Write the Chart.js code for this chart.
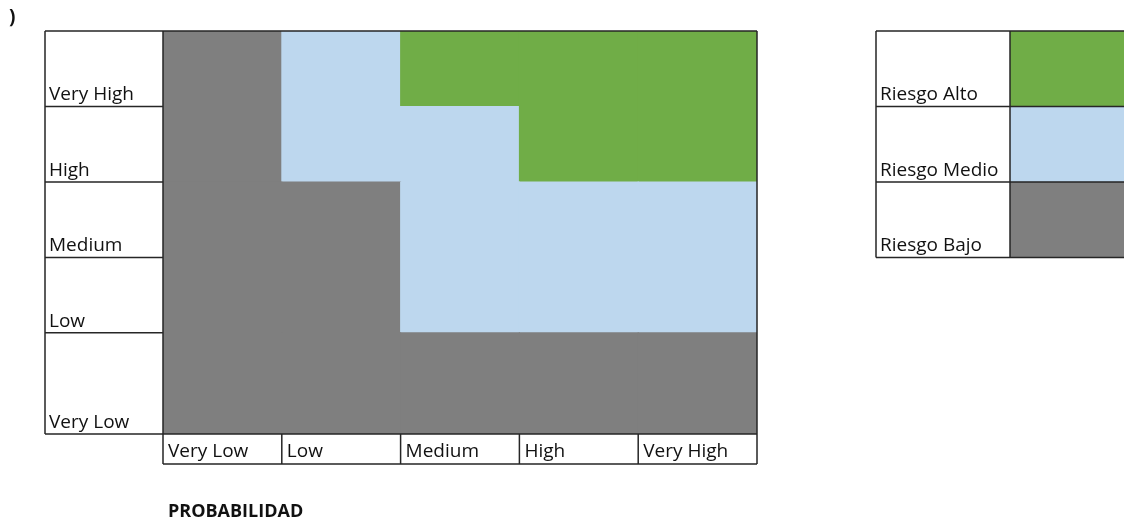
<!DOCTYPE html>
<html>
<head>
<meta charset="utf-8">
<script src="https://cdn.jsdelivr.net/npm/chart.js@4/dist/chart.umd.min.js"></script>
<style>
    html, body { margin: 0; padding: 0; background: #ffffff; }
    #wrap { width: 1124px; height: 523px; position: relative; }
</style>
</head>
<body>
<div id="wrap"><canvas id="riskChart"></canvas></div>
<script>
// --- Data --- //
const probabilidad = ['Very Low', 'Low', 'Medium', 'High', 'Very High']; // columns, left to right
const impacto = ['Very Low', 'Low', 'Medium', 'High', 'Very High'];      // rows, bottom to top
// 0 = bajo, 1 = medio, 2 = alto (one row per impacto, one value per probabilidad)
const riesgo = [
    [0, 0, 0, 0, 0],
    [0, 0, 1, 1, 1],
    [0, 0, 1, 1, 1],
    [0, 1, 1, 2, 2],
    [0, 1, 2, 2, 2]
];
const nivelesRiesgo = ['Riesgo Bajo', 'Riesgo Medio', 'Riesgo Alto'];
const tituloEje = 'PROBABILIDAD';

// --- Layout / style --- //
const colores = ['#7f7f7f', '#bdd7ee', '#70ad47'];
const rowWeight = [1.34, 1, 1, 1, 1]; // the bottom spreadsheet row is taller
const FONT = '19px "Open Sans", Lato, sans-serif';
const LINE = '#262626';

// row bounds in y units, built from the weights
const rowBounds = [];
let acc = 0;
rowWeight.forEach(w => { rowBounds.push([acc, acc + w]); acc += w; });
const yMax = acc;

const datasets = impacto.map((name, r) => ({
    label: name,
    data: probabilidad.map(() => rowBounds[r]),
    backgroundColor: riesgo[r].map(l => colores[l]),
    borderWidth: 0,
    inflateAmount: 0.5, // hide seams between stacked cells
    grouped: false,
    barPercentage: 1,
    categoryPercentage: 1
}));

// --- Table frame, labels and legend --- //
const tablePlugin = {
    id: 'tablePlugin',
    afterDraw(chart) {
        const c = chart.ctx;
        const x = chart.scales.x;
        const y = chart.scales.y;
        const area = chart.chartArea;
        const colW = x.getPixelForValue(1) - x.getPixelForValue(0);
        const colEdges = probabilidad.map((_, i) => x.getPixelForValue(i) - colW / 2);
        colEdges.push(area.right);
        const rowEdges = [y.getPixelForValue(0)].concat(rowBounds.map(b => y.getPixelForValue(b[1])));
        const labelLeft = 45;
        const axisBottom = area.bottom + 30;

        c.save();
        c.strokeStyle = LINE;
        c.lineWidth = 1.5;
        c.beginPath();
        // left label column
        c.moveTo(labelLeft, area.top); c.lineTo(labelLeft, area.bottom);
        c.moveTo(area.left, area.top); c.lineTo(area.left, axisBottom);
        rowEdges.forEach(py => { c.moveTo(labelLeft, py); c.lineTo(area.left, py); });
        c.moveTo(area.left, area.top); c.lineTo(area.right, area.top);
        c.moveTo(area.right, area.top); c.lineTo(area.right, axisBottom);
        // bottom label row
        c.moveTo(area.left, area.bottom); c.lineTo(area.right, area.bottom);
        c.moveTo(area.left, axisBottom); c.lineTo(area.right, axisBottom);
        colEdges.forEach(px => { c.moveTo(px, area.bottom); c.lineTo(px, axisBottom); });
        c.stroke();

        c.fillStyle = '#111111';
        c.font = FONT;
        c.textBaseline = 'alphabetic';
        c.textAlign = 'left';
        impacto.forEach((name, r) => c.fillText(name, labelLeft + 4, rowEdges[r] - 6));
        probabilidad.forEach((name, i) => c.fillText(name, colEdges[i] + 5, axisBottom - 7));

        c.font = 'bold 18px "Open Sans", Lato, sans-serif';
        c.fillText(tituloEje, area.left + 5, 517);
        c.font = 'bold 19px "Open Sans", sans-serif';
        c.fillText(')', 9, 23);

        // legend table on the right, rows aligned with the top three rows
        const lgLeft = 876, lgMid = 1010, lgRight = chart.width + 2;
        const top3 = [4, 3, 2];
        top3.forEach((r, k) => {
            const lvl = 2 - k;
            const y0 = rowEdges[r + 1], y1 = rowEdges[r];
            c.fillStyle = colores[lvl];
            c.fillRect(lgMid, y0, lgRight - lgMid, y1 - y0);
            c.fillStyle = '#111111';
            c.font = FONT;
            c.fillText(nivelesRiesgo[lvl], lgLeft + 4, y1 - 6);
        });
        c.beginPath();
        const lgTop = rowEdges[5], lgBottom = rowEdges[2];
        c.moveTo(lgLeft, lgTop); c.lineTo(lgRight, lgTop);
        c.moveTo(lgLeft, lgBottom); c.lineTo(lgRight, lgBottom);
        c.moveTo(lgLeft, rowEdges[4]); c.lineTo(lgRight, rowEdges[4]);
        c.moveTo(lgLeft, rowEdges[3]); c.lineTo(lgRight, rowEdges[3]);
        c.moveTo(lgLeft, lgTop); c.lineTo(lgLeft, lgBottom);
        c.moveTo(lgMid, lgTop); c.lineTo(lgMid, lgBottom);
        c.stroke();
        c.restore();
    }
};

// --- Chart --- //
new Chart(document.getElementById('riskChart').getContext('2d'), {
    type: 'bar',
    data: { labels: probabilidad, datasets: datasets },
    options: {
        responsive: true,
        maintainAspectRatio: false,
        animation: false,
        layout: { padding: { left: 163, top: 31, right: 367, bottom: 89 } },
        scales: {
            x: { display: false, offset: true },
            y: { display: false, min: 0, max: yMax }
        },
        plugins: {
            legend: { display: false },
            tooltip: { enabled: false }
        }
    },
    plugins: [tablePlugin]
});
</script>
</body>
</html>
